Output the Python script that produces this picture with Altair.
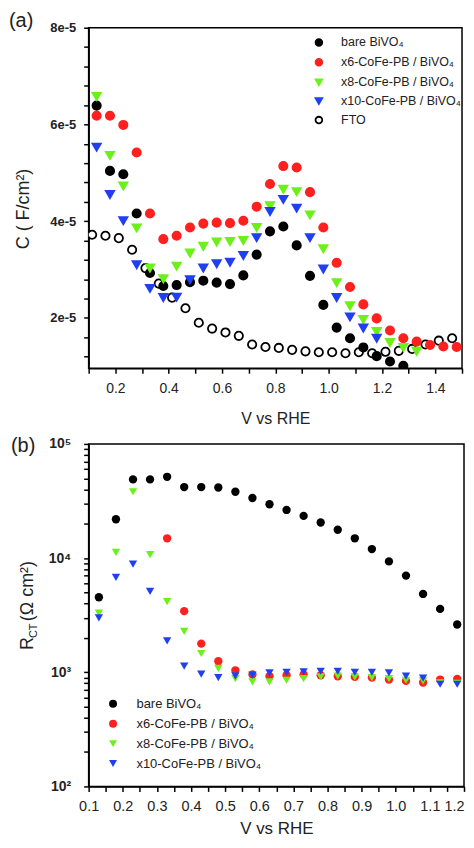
import altair as alt
import pandas as pd

# ---------------- panel (a): capacitance ----------------
SERIES_A = ["bare BiVO₄", "x6-CoFe-PB / BiVO₄", "x8-CoFe-PB / BiVO₄",
            "x10-CoFe-PB / BiVO₄", "FTO"]
STROKE_A = ["#000000", "#ff2020", "#6cf01a", "#2040f0", "#000000"]
FILL_A = ["#000000", "#ff2020", "#6cf01a", "#2040f0", "#ffffff"]
SHAPE_A = ["circle", "circle", "triangle-down", "triangle-down", "circle"]

V_A = [0.13, 0.18, 0.23, 0.28, 0.33, 0.38, 0.43, 0.48, 0.53, 0.58, 0.63, 0.68,
       0.73, 0.78, 0.83, 0.88, 0.93, 0.98, 1.03, 1.08, 1.13, 1.18, 1.23, 1.28,
       1.33, 1.38, 1.43, 1.48]
V_FTO = [0.113, 0.163, 0.213, 0.263, 0.313, 0.363, 0.413, 0.463, 0.513, 0.563,
         0.613, 0.663, 0.713, 0.763, 0.813, 0.863, 0.913, 0.963, 1.013, 1.063,
         1.113, 1.163, 1.213, 1.263, 1.313, 1.363, 1.413, 1.463]

C_BARE = [6.39e-5, 5.04e-5, 4.97e-5, 4.16e-5, 2.93e-5, 2.66e-5, 2.68e-5, 2.74e-5,
          2.77e-5, 2.73e-5, 2.70e-5, 2.88e-5, 3.31e-5, 3.79e-5, 3.89e-5, 3.50e-5,
          2.87e-5, 2.27e-5, 1.80e-5, 1.58e-5, 1.39e-5, 1.21e-5, 1.10e-5, 1.01e-5]
C_X6 = [6.18e-5, 6.18e-5, 5.99e-5, 5.42e-5, 4.16e-5, 3.63e-5, 3.70e-5, 3.87e-5,
        3.95e-5, 3.97e-5, 3.96e-5, 4.01e-5, 4.30e-5, 4.77e-5, 5.14e-5, 5.11e-5,
        4.60e-5, 3.87e-5, 3.14e-5, 2.64e-5, 2.28e-5, 1.99e-5, 1.74e-5, 1.58e-5,
        1.51e-5, 1.44e-5, 1.41e-5, 1.40e-5]
C_X8 = [6.58e-5, 5.36e-5, 4.73e-5, 3.86e-5, 3.03e-5, 2.81e-5, 3.07e-5, 3.34e-5,
        3.48e-5, 3.57e-5, 3.58e-5, 3.60e-5, 3.87e-5, 4.32e-5, 4.66e-5, 4.61e-5,
        4.13e-5, 3.43e-5, 2.73e-5, 2.25e-5, 1.97e-5, 1.72e-5, 1.49e-5, 1.39e-5,
        1.31e-5]
C_X10 = [5.53e-5, 4.55e-5, 4.01e-5, 3.10e-5, 2.61e-5, 2.42e-5, 2.43e-5, 2.79e-5,
         3.03e-5, 3.12e-5, 3.15e-5, 3.29e-5, 3.66e-5, 4.20e-5, 4.45e-5, 4.27e-5,
         3.66e-5, 3.01e-5, 2.42e-5, 2.02e-5, 1.79e-5, 1.58e-5]
C_FTO = [3.72e-5, 3.70e-5, 3.65e-5, 3.41e-5, 3.03e-5, 2.71e-5, 2.42e-5, 2.20e-5,
         1.90e-5, 1.78e-5, 1.70e-5, 1.63e-5, 1.45e-5, 1.40e-5, 1.38e-5, 1.34e-5,
         1.31e-5, 1.29e-5, 1.29e-5, 1.27e-5, 1.29e-5, 1.27e-5, 1.30e-5, 1.32e-5,
         1.36e-5, 1.45e-5, 1.53e-5, 1.58e-5]

XTICKS_A = [0.1, 0.2, 0.3, 0.4, 0.5, 0.6, 0.7, 0.8, 0.9, 1.0, 1.1, 1.2, 1.3, 1.4, 1.5]
YTICKS_A = [1.2e-5, 1.6e-5, 2.0e-5, 2.4e-5, 2.8e-5, 3.2e-5, 3.6e-5, 4.0e-5, 4.4e-5,
            4.8e-5, 5.2e-5, 5.6e-5, 6.0e-5, 6.4e-5, 6.8e-5, 7.2e-5, 7.6e-5, 8.0e-5]

# ---------------- panel (b): charge-transfer resistance ----------------
SERIES_B = ["bare BiVO₄", "x6-CoFe-PB / BiVO₄", "x8-CoFe-PB / BiVO₄",
            "x10-CoFe-PB / BiVO₄"]
COLOR_B = ["#000000", "#ff2020", "#6cf01a", "#2040f0"]
SHAPE_B = ["circle", "circle", "triangle-down", "triangle-down"]

V_B = [0.13, 0.18, 0.23, 0.28, 0.33, 0.38, 0.43, 0.48, 0.53, 0.58, 0.63, 0.68,
       0.73, 0.78, 0.83, 0.88, 0.93, 0.98, 1.03, 1.08, 1.13, 1.18]
R_BARE = [4540, 21900, 48900, 48900, 51500, 41900, 41900, 41500, 38100, 33600,
          29600, 26400, 23400, 20500, 17700, 14900, 12000, 9350, 7020, 4850,
          3590, 2620]
V_X6_B = [0.33, 0.38, 0.43, 0.48, 0.53, 0.58, 0.63, 0.68, 0.73, 0.78, 0.83, 0.88,
          0.93, 0.98, 1.03, 1.08, 1.13, 1.18]
R_X6 = [14900, 3430, 1780, 1250, 1040, 955, 923, 942, 955, 942, 923, 910, 898,
        863, 840, 813, 863, 875]
R_X8 = [3290, 11200, 38100, 10700, 4160, 2280, 1460, 1080, 881, 824, 824, 851,
        881, 910, 923, 910, 898, 881, 851, 839, 807, 800]
R_X10 = [3000, 6780, 8860, 5120, 1880, 1130, 961, 898, 929, 942, 987, 1000, 1010,
         1020, 1020, 1000, 1000, 987, 923, 890, 785, 785]

XTICKS_B = [0.1, 0.15, 0.2, 0.25, 0.3, 0.35, 0.4, 0.45, 0.5, 0.55, 0.6, 0.65, 0.7,
            0.75, 0.8, 0.85, 0.9, 0.95, 1.0, 1.05, 1.1, 1.15, 1.2]
YTICKS_B = [100, 200, 300, 400, 500, 600, 700, 800, 900,
            1000, 2000, 3000, 4000, 5000, 6000, 7000, 8000, 9000,
            10000, 20000, 30000, 40000, 50000, 60000, 70000, 80000, 90000, 100000]

FONT = "Liberation Sans"
INK = "#222222"

# ---------- build tables ----------
rows_a = []
for s, xs, ys in [(SERIES_A[4], V_FTO, C_FTO), (SERIES_A[0], V_A, C_BARE),
                  (SERIES_A[1], V_A, C_X6), (SERIES_A[2], V_A, C_X8),
                  (SERIES_A[3], V_A, C_X10)]:
    for x, y in zip(xs, ys):
        rows_a.append({"V": x, "C": y, "sa": s})
df_a = pd.DataFrame(rows_a)

rows_b = []
for s, xs, ys in [(SERIES_B[0], V_B, R_BARE), (SERIES_B[1], V_X6_B, R_X6),
                  (SERIES_B[2], V_B, R_X8), (SERIES_B[3], V_B, R_X10)]:
    for x, y in zip(xs, ys):
        rows_b.append({"V": x, "R": y, "sb": s})
df_b = pd.DataFrame(rows_b)


def label(txt, x, y, size, angle=0, align="left", baseline="middle"):
    kw = dict(align=align, baseline=baseline, font=FONT, fontSize=size, color=INK)
    if angle:
        kw["angle"] = angle
    return alt.Chart(pd.DataFrame({"t": [txt]})).mark_text(**kw).encode(
        text="t:N", x=alt.value(x), y=alt.value(y))


leg_a = alt.Legend(title=None, orient="none", legendX=225, legendY=8.5,
                   labelFont=FONT, labelFontSize=12.5, labelColor=INK,
                   symbolSize=45, symbolStrokeWidth=1.8, labelOffset=16,
                   rowPadding=5, padding=0)

pts_a = alt.Chart(df_a).mark_point(size=70, opacity=1, strokeWidth=1.8,
                                   fillOpacity=1, clip=True).encode(
    x=alt.X("V:Q", scale=alt.Scale(domain=[0.1, 1.5], nice=False, zero=False),
            axis=alt.Axis(values=XTICKS_A, title="V vs RHE",
                          labelExpr="round(datum.value*10) % 2 == 0 ? format(datum.value, '.1f') : ''",
                          labelFontSize=14, labelPadding=8, titlePadding=15,
                          titleFontSize=16)),
    y=alt.Y("C:Q", scale=alt.Scale(domain=[0.96e-5, 8e-5], nice=False, zero=False),
            axis=alt.Axis(values=YTICKS_A, title=None,
                          labelExpr="round(datum.value*1e6) % 20 == 0 ? round(datum.value*1e5) + 'e-5' : ''",
                          labelFontSize=13, labelFontWeight="bold", labelPadding=8)),
    color=alt.Color("sa:N", scale=alt.Scale(domain=SERIES_A, range=STROKE_A), legend=leg_a),
    fill=alt.Fill("sa:N", scale=alt.Scale(domain=SERIES_A, range=FILL_A), legend=leg_a),
    shape=alt.Shape("sa:N", scale=alt.Scale(domain=SERIES_A, range=SHAPE_A), legend=leg_a),
)

panel_a = alt.layer(
    pts_a,
    label("(a)", -80, -17, 20, baseline="top"),
    label("C ( F/cm²)", -65, 182, 18, angle=270, align="center"),
).properties(width=375, height=342)

leg_b = alt.Legend(title=None, orient="none", legendX=18, legendY=254.5,
                   labelFont=FONT, labelFontSize=13, labelColor=INK,
                   symbolSize=64, labelOffset=17, rowPadding=6, padding=0)

pts_b = alt.Chart(df_b).mark_point(size=70, opacity=1, filled=True, clip=True).encode(
    x=alt.X("V:Q", scale=alt.Scale(domain=[0.1, 1.2], nice=False, zero=False),
            axis=alt.Axis(values=XTICKS_B, title="V vs RHE",
                          labelExpr="round(datum.value*100) % 10 == 0 ? format(datum.value, '.1f') : ''",
                          labelAlign={"condition": {"test": "datum.value > 1.19", "value": "right"},
                                      "value": "center"},
                          labelFontSize=14.5, labelPadding=8, titlePadding=8,
                          titleFontSize=17)),
    y=alt.Y("R:Q", scale=alt.Scale(type="log", domain=[100, 100000], nice=False),
            axis=alt.Axis(values=YTICKS_B, title=None,
                          labelExpr="datum.value == 100 ? '10²' : datum.value == 1000 ? '10³' : datum.value == 10000 ? '10⁴' : datum.value == 100000 ? '10⁵' : ''",
                          labelFontSize=14, labelFontWeight="bold", labelPadding=13)),
    color=alt.Color("sb:N", scale=alt.Scale(domain=SERIES_B, range=COLOR_B), legend=leg_b),
    shape=alt.Shape("sb:N", scale=alt.Scale(domain=SERIES_B, range=SHAPE_B), legend=leg_b),
)

panel_b = alt.layer(
    pts_b,
    label("(b)", -78, 2, 20),
    label("R", -61, 207, 18, angle=270),
    label("CT", -55, 195, 11, angle=270),
    label("(Ω cm²)", -61, 178, 18, angle=270),
).properties(width=377, height=344)

chart = alt.vconcat(panel_a, panel_b, spacing=8).resolve_scale(
    color="independent", fill="independent", shape="independent",
    x="independent", y="independent"
).properties(padding=0).configure_view(
    stroke="#000000", strokeWidth=1.5
).configure_axis(
    grid=False, domainColor="#000000", domainWidth=1.5, tickColor="#000000",
    tickWidth=1.5, tickSize=5, labelColor=INK, titleColor=INK, labelFont=FONT,
    titleFont=FONT, titleFontWeight="normal", labelFlush=False, labelOverlap=False
).configure_legend(labelLimit=200)

chart.save("out.html", embed_options={"renderer": "svg", "actions": False})
